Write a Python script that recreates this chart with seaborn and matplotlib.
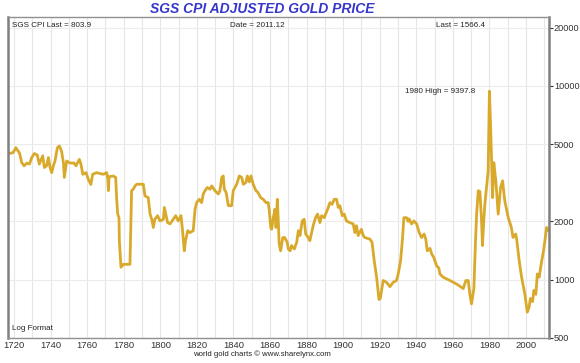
import numpy as np
import pandas as pd
import seaborn as sns
import matplotlib.pyplot as plt
from matplotlib.ticker import FixedLocator, NullFormatter, NullLocator

# CPI adjusted gold price (year, price)
years = [1717.4, 1719.5, 1721.0, 1723.0, 1724.2, 1725.5, 1727.0, 1728.4, 1729.7, 1731.1,
         1732.7, 1733.8, 1735.7, 1736.6, 1737.8, 1738.8, 1739.7, 1740.6, 1741.5, 1742.4,
         1743.7, 1744.8, 1746.0, 1747.0, 1747.5, 1748.8, 1750.6, 1752.8, 1753.9, 1755.7,
         1756.6, 1757.6, 1759.4, 1760.6, 1762.0, 1763.0, 1765.2, 1766.0, 1768.8, 1770.7,
         1771.3, 1771.6, 1772.0, 1774.3, 1775.6, 1776.1, 1776.7, 1777.4, 1777.6, 1778.5,
         1779.8, 1783.4, 1784.3, 1785.2, 1786.2, 1787.1, 1790.7, 1791.6, 1793.4, 1794.4,
         1795.3, 1796.2, 1797.0, 1798.5, 1799.8, 1801.7, 1802.2, 1803.0, 1804.0, 1805.3,
         1807.1, 1808.4, 1809.8, 1811.3, 1812.0, 1813.1, 1813.8, 1815.0, 1816.2, 1818.0,
         1819.0, 1819.9, 1821.3, 1822.6, 1823.5, 1824.4, 1825.7, 1827.2, 1828.1, 1829.9,
         1831.7, 1832.6, 1833.6, 1834.4, 1835.0, 1836.0, 1837.2, 1839.0, 1839.9, 1841.8,
         1843.2, 1844.5, 1845.4, 1846.8, 1847.6, 1848.7, 1849.6, 1850.8, 1852.3, 1853.4,
         1854.9, 1856.3, 1857.8, 1859.0, 1859.6, 1860.4, 1860.9, 1861.8, 1862.7, 1863.3,
         1864.0, 1864.6, 1865.0, 1865.8, 1867.0, 1868.0, 1869.4, 1870.0, 1871.0, 1871.8,
         1873.3, 1874.6, 1875.5, 1876.4, 1877.6, 1878.7, 1879.5, 1880.9, 1881.8, 1882.8,
         1883.6, 1884.9, 1886.0, 1887.3, 1888.2, 1889.7, 1890.4, 1891.5, 1892.8, 1894.0,
         1895.1, 1896.4, 1897.3, 1898.2, 1899.5, 1900.6, 1901.8, 1903.7, 1905.5, 1906.4,
         1907.3, 1908.2, 1910.0, 1911.0, 1911.8, 1914.6, 1915.8, 1917.0, 1918.3, 1919.6,
         1920.3, 1921.9, 1923.7, 1925.6, 1927.4, 1929.2, 1930.1, 1931.4, 1932.5, 1933.2,
         1934.7, 1935.5, 1936.1, 1937.4, 1938.7, 1940.2, 1941.6, 1942.9, 1944.3, 1945.2,
         1946.0, 1947.5, 1948.4, 1949.6, 1951.1, 1952.3, 1952.9, 1954.7, 1958.4, 1962.0,
         1965.7, 1967.1, 1968.4, 1969.3, 1970.2, 1971.5, 1972.3, 1973.0, 1973.9, 1974.8,
         1975.7, 1976.2, 1976.9, 1977.5, 1978.4, 1979.3, 1980.0, 1980.6, 1981.2, 1981.7,
         1982.4, 1983.5, 1984.8, 1986.1, 1987.2, 1988.4, 1990.3, 1992.0, 1992.9, 1994.4,
         1995.0, 1996.3, 1997.6, 1999.4, 2000.7, 2001.7, 2002.4, 2003.6, 2004.3, 2005.4,
         2006.2, 2007.2, 2008.6, 2009.6, 2010.8, 2011.3, 2011.9]
price_k = [4.48, 4.53, 4.80, 4.50, 4.02, 3.87, 4.00, 3.95, 4.27, 4.48,
           4.40, 3.95, 4.36, 3.79, 3.87, 4.27, 3.79, 3.57, 3.87, 4.10,
           4.80, 4.90, 4.60, 4.02, 3.37, 4.10, 4.00, 4.00, 3.87, 4.18,
           3.95, 3.50, 3.57, 3.30, 3.10, 3.50, 3.57, 3.55, 3.50, 3.57,
           3.30, 2.88, 3.40, 3.43, 3.37, 2.65, 2.18, 2.09, 1.59, 1.16,
           1.20, 1.20, 2.88, 2.93, 3.05, 3.11, 3.11, 2.71, 2.65, 2.18,
           2.05, 1.86, 2.05, 2.14, 2.01, 2.05, 2.36, 2.18, 1.97, 1.94,
           2.05, 2.14, 2.01, 2.14, 1.86, 1.41, 1.59, 1.79, 1.75, 1.79,
           2.31, 2.50, 2.60, 2.50, 2.77, 2.88, 2.99, 2.93, 3.05, 2.88,
           2.77, 2.88, 3.37, 3.43, 2.93, 2.82, 2.41, 2.41, 2.88, 3.11,
           3.43, 3.37, 3.11, 3.17, 3.43, 3.20, 3.43, 3.11, 2.88, 2.82,
           2.65, 2.60, 2.50, 2.50, 2.27, 1.86, 1.82, 2.09, 2.31, 1.86,
           2.60, 1.94, 1.53, 1.41, 1.65, 1.65, 1.56, 1.44, 1.41, 1.50,
           1.44, 1.56, 1.79, 1.69, 2.01, 2.05, 1.72, 1.65, 1.59, 1.75,
           1.90, 2.09, 2.18, 1.97, 2.14, 2.09, 2.18, 2.31, 2.50, 2.45,
           2.60, 2.60, 2.36, 2.41, 2.14, 2.18, 2.01, 1.97, 1.94, 1.75,
           1.90, 1.69, 1.82, 1.69, 1.65, 1.62, 1.56, 1.25, 1.03, 0.79,
           0.80, 0.99, 0.97, 0.92, 0.97, 0.99, 1.07, 1.25, 1.65, 2.09,
           2.09, 2.00, 2.06, 1.94, 2.01, 1.94, 1.75, 1.65, 1.72, 1.62,
           1.41, 1.45, 1.36, 1.30, 1.18, 1.15, 1.07, 1.03, 0.99, 0.95,
           0.90, 0.99, 0.99, 0.84, 0.75, 0.90, 1.50, 2.18, 2.88, 2.85,
           2.01, 1.50, 2.01, 2.45, 2.99, 3.64, 9.40, 6.35, 4.10, 2.65,
           4.02, 3.24, 2.18, 2.99, 3.24, 2.55, 2.09, 1.86, 1.65, 1.72,
           1.59, 1.25, 1.03, 0.84, 0.68, 0.72, 0.80, 0.77, 0.88, 0.84,
           1.07, 1.03, 1.25, 1.41, 1.72, 1.86, 1.80]

y_ticks = [500, 1000, 2000, 5000, 10000, 20000]
x_labels = list(range(1720, 2001, 20))

df = pd.DataFrame({'year': years, 'price': np.array(price_k) * 1000})

sns.set_style("white")
plt.rcParams['font.family'] = ['Liberation Sans', 'DejaVu Sans']

fig = plt.figure(figsize=(5.8, 3.63), dpi=100)
ax = fig.add_axes([0.0138, 0.0689, 0.9328, 0.8843])

sns.lineplot(data=df, x='year', y='price', ax=ax, color='#d9a92b', linewidth=2.0,
             sort=False, estimator=None)

ax.set_yscale('log')
ax.set_ylim(500, 22700)
ax.set_xlim(1716.7, 2012.6)

ax.yaxis.set_major_locator(FixedLocator(y_ticks))
ax.yaxis.set_minor_locator(NullLocator())
ax.yaxis.set_major_formatter(plt.FuncFormatter(lambda v, p: f'{int(v)}'))
ax.yaxis.set_minor_formatter(NullFormatter())
ax.yaxis.tick_right()

ax.xaxis.set_major_locator(FixedLocator(x_labels))
ax.xaxis.set_minor_locator(FixedLocator(list(range(1730, 2011, 20))))

ax.tick_params(axis='both', which='both', direction='out', labelsize=6.8, colors='#333333',
               length=2.5, width=0.8, pad=0)
ax.tick_params(axis='y', length=3, pad=0.5, labelsize=6.6)

ax.grid(True, which='both', axis='x', color='#e6e6e6', linewidth=0.8)
ax.grid(True, which='major', axis='y', color='#ececec', linewidth=0.8)
ax.set_axisbelow(True)

for side in ['left', 'right']:
    ax.spines[side].set_color('#808080')
    ax.spines[side].set_linewidth(1.8)
for side in ['top', 'bottom']:
    ax.spines[side].set_color('#909090')
    ax.spines[side].set_linewidth(1.0)

ax.set_xlabel('')
ax.set_ylabel('')

fig.text(0.4526, 0.974, 'SGS CPI ADJUSTED GOLD PRICE', ha='center', va='center',
         fontsize=10, fontweight='bold', fontstyle='italic', color='#3636cc')

small = 5.8
ax.text(0.008, 0.985, 'SGS CPI Last = 803.9', transform=ax.transAxes, ha='left', va='top',
        fontsize=small, color='#222222')
ax.text(0.46, 0.985, 'Date = 2011.12', transform=ax.transAxes, ha='center', va='top',
        fontsize=small, color='#222222')
ax.text(0.882, 0.985, 'Last = 1566.4', transform=ax.transAxes, ha='right', va='top',
        fontsize=small, color='#222222')
ax.text(0.008, 0.02, 'Log Format', transform=ax.transAxes, ha='left', va='bottom',
        fontsize=small, color='#222222')
ax.text(1972.5, 9397.8, '1980 High = 9397.8', ha='right', va='center',
        fontsize=small, color='#222222')

fig.text(0.452, 0.025, 'world gold charts \u00a9 www.sharelynx.com', ha='center', va='center',
         fontsize=5.6, color='#222222')

fig.savefig('out.png', dpi=100)
